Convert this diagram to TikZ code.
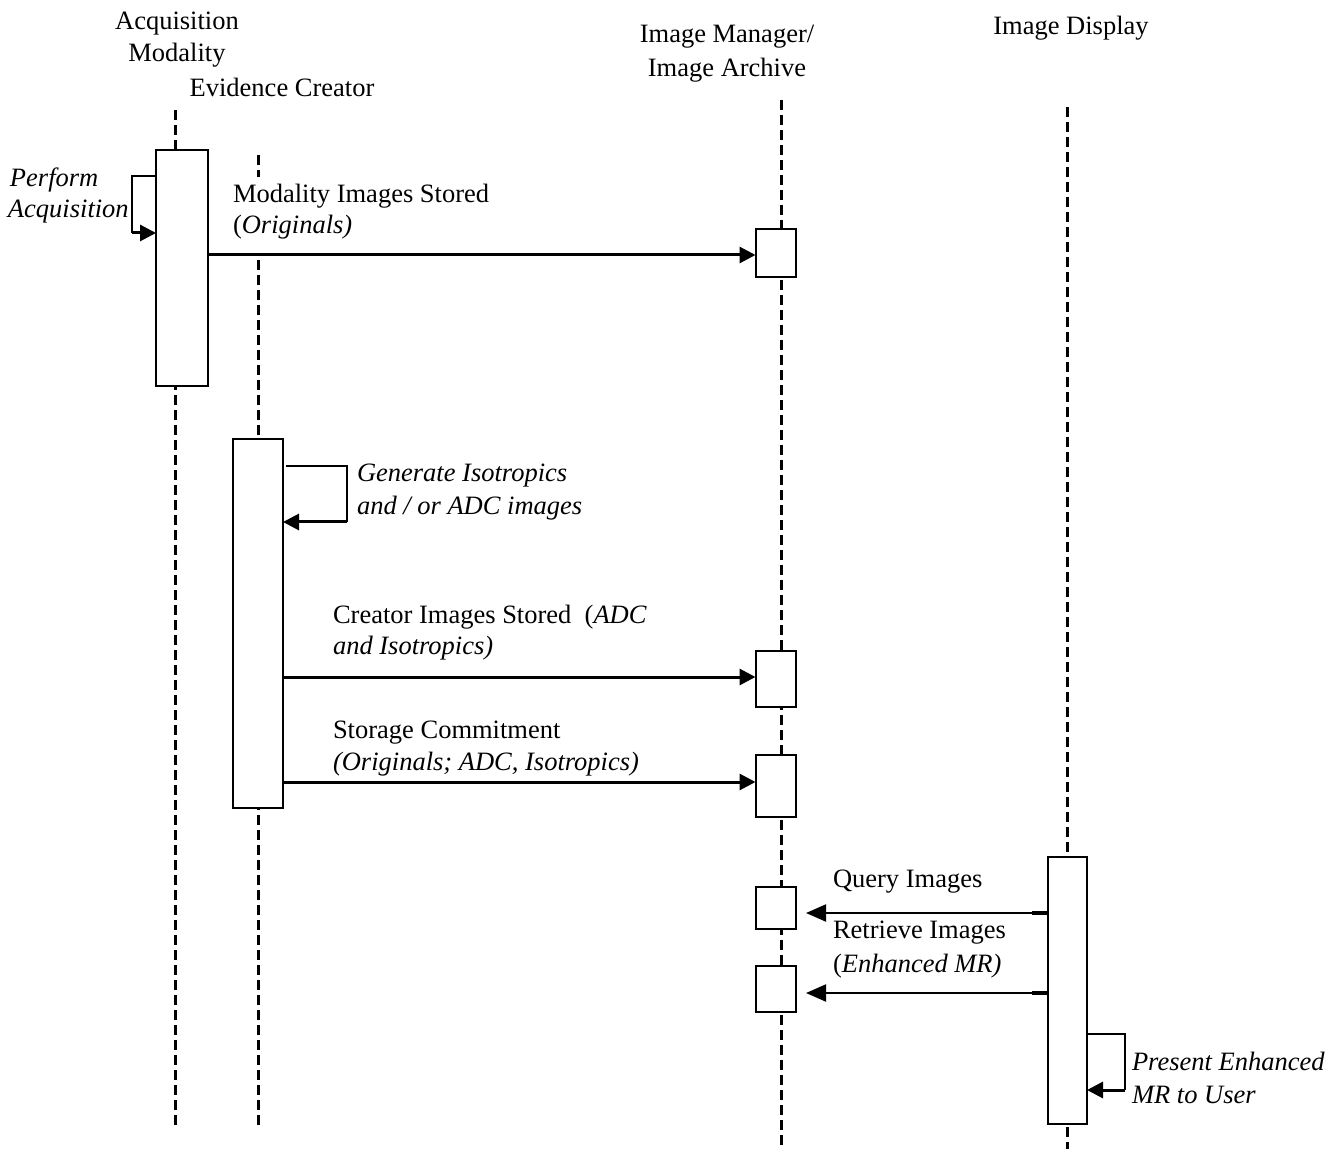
\documentclass[tikz,border=0pt]{standalone}
\usepackage{fontspec}
\setmainfont{Liberation Serif}
\usetikzlibrary{arrows.meta}
\begin{document}
\begin{tikzpicture}[x=0.5pt,y=-0.5pt,
  every node/.style={inner sep=0pt,outer sep=0pt,font=\fontsize{13.25pt}{16pt}\selectfont},
  lbl/.style={anchor=base west},
  hdr/.style={anchor=base},
  lifeline/.style={line width=1.5pt, dash pattern=on 5pt off 2.5pt},
  actbox/.style={draw, fill=white, line width=1pt, rectangle},
  msg/.style={line width=1.5pt, -{Triangle[length=8pt,width=8pt]}},
  retmsg/.style={line width=1pt, -{Triangle[length=10pt,width=8.5pt]}},
  loopline/.style={line width=1pt},
  stub/.style={line width=1.75pt},
]
\fill[white] (0,0) rectangle (1343,1149);
\useasboundingbox (0,0) rectangle (1343,1149);

% headers
\node[hdr] (hA1) at (177,30) {Acquisition};
\node[hdr] (hA2) at (177,62) {Modality};
\node[hdr] (hE) at (282,97) {Evidence Creator};
\node[hdr] (hI1) at (727,43) {Image Manager/};
\node[hdr] (hI2) at (727,77) {Image Archive};
\node[hdr] (hD) at (1071,35) {Image Display};

% lifelines
\coordinate (aT) at (175,110); \coordinate (aB) at (175,1125);
\coordinate (eT) at (258,155); \coordinate (eB) at (258,1125);
\coordinate (iT) at (781,100); \coordinate (iB) at (781,1149);
\coordinate (dT) at (1067,107); \coordinate (dB) at (1067,1149);
\draw[lifeline] (aT) -- (aB);
\draw[lifeline] (eT) -- (eB);
\draw[lifeline] (iT) -- (iB);
\draw[lifeline] (dT) -- (dB);

% white label background hiding the lifeline
\fill[white] (226,177) rectangle (500,253);

% activation boxes
\node[actbox, minimum width=26pt, minimum height=118pt] (a1) at (182,268) {};
\node[actbox, minimum width=25pt, minimum height=184.5pt] (e1) at (258,623.5) {};
\node[actbox, minimum width=20pt, minimum height=24pt] (i1) at (775.5,253) {};
\node[actbox, minimum width=20pt, minimum height=28pt] (i2) at (775.5,679) {};
\node[actbox, minimum width=20pt, minimum height=31pt] (i3) at (775.5,786) {};
\node[actbox, minimum width=20pt, minimum height=21pt] (i4) at (775.5,908) {};
\node[actbox, minimum width=20pt, minimum height=23pt] (i5) at (775.5,989) {};
\node[actbox, minimum width=19.5pt, minimum height=133.5pt] (d1) at (1067.5,990.5) {};

% Perform Acquisition (self call)
\coordinate (pa) at (132,176); \coordinate (pb) at (132,233);
\draw[loopline] (a1.west |- pa) -- (pa) -- (pb);
\draw[msg] (pb) -- (a1.west |- pb);
\node[lbl] (lP1) at (10,187) {\itshape Perform};
\node[lbl] (lP2) at (8,218) {\itshape Acquisition};

% Modality Images Stored
\coordinate (m1) at (0,255);
\draw[msg] (a1.east |- m1) -- (i1.west |- m1);
\node[lbl] (lM1) at (233,203) {Modality Images Stored};
\node[lbl] (lM2) at (233,234) {(\textit{Originals)}};

% Generate (self call)
\coordinate (g0) at (286,466); \coordinate (ga) at (347,466); \coordinate (gb) at (347,522);
\draw[loopline] (g0) -- (ga) -- (gb);
\draw[msg] (gb) -- (e1.east |- gb);
\node[lbl] (lG1) at (357,482) {\itshape Generate Isotropics};
\node[lbl] (lG2) at (357,515) {\itshape and / or ADC images};

% Creator Images Stored
\coordinate (c1) at (0,677);
\draw[msg] (e1.east |- c1) -- (i2.west |- c1);
\node[lbl] (lC1) at (333,623) {Creator Images Stored\ \ (\textit{ADC}};
\node[lbl] (lC2) at (333,654) {\itshape and Isotropics)};

% Storage Commitment
\coordinate (s1) at (0,782);
\draw[msg] (e1.east |- s1) -- (i3.west |- s1);
\node[lbl] (lS1) at (333,738) {Storage Commitment};
\begin{scope}
\clip (320,740) rectangle (700,775);
\node[lbl] (lS2) at (333,770) {\itshape (Originals; ADC, Isotropics)};
\end{scope}

% Query Images
\coordinate (qt) at (806,913);
\draw[retmsg] (d1.west |- qt) -- (qt);
\draw[stub] (d1.west |- qt) -- ++(-16,0);
\node[lbl] (lQ) at (833,887) {Query Images};

% Retrieve Images
\coordinate (rt) at (806,993);
\draw[retmsg] (d1.west |- rt) -- (rt);
\draw[stub] (d1.west |- rt) -- ++(-16,0);
\node[lbl] (lR1) at (833,938) {Retrieve Images};
\node[lbl] (lR2) at (833,972) {(\textit{Enhanced MR)}};

% Present Enhanced MR (self call)
\coordinate (pra) at (1125,1034); \coordinate (prb) at (1125,1090);
\draw[loopline] (d1.east |- pra) -- (pra) -- (prb);
\draw[msg] (prb) -- (d1.east |- prb);
\node[lbl] (lPr1) at (1132,1070) {\itshape Present Enhanced};
\node[lbl] (lPr2) at (1132,1103) {\itshape MR to User};
\end{tikzpicture}
\end{document}
